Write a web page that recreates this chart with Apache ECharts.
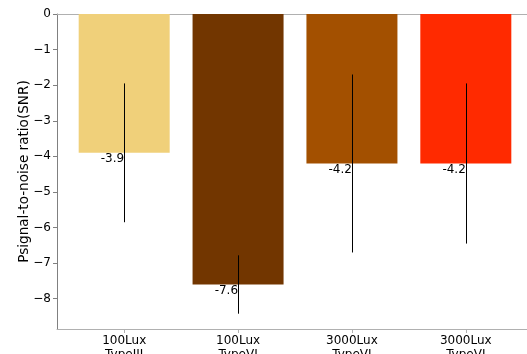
<!DOCTYPE html>
<html>
<head>
<meta charset="utf-8">
<script src="https://cdn.jsdelivr.net/npm/echarts@6/dist/echarts.min.js"></script>
<style>
  html, body { margin: 0; padding: 0; background: #fff; }
  #chart { width: 527px; height: 354px; }
</style>
</head>
<body>
<div id="chart"></div>
<script>
// Conditions and their mean SNR with the spread shown as error bars
const categories = ['100Lux\nTypeIII', '100Lux\nTypeVI', '3000Lux\nTypeVI', '3000Lux\nTypeVI'];
const snrMean = [-3.9, -7.6, -4.2, -4.2];
const snrErr = [1.95, 0.82, 2.5, 2.25];
const barColors = ['#F0D07A', '#723600', '#A35000', '#FF2A00'];
const yTicks = [0, -1, -2, -3, -4, -5, -6, -7, -8];

const FONT = 'DejaVu Sans';
const positions = categories.map((_, i) => i);

const chart = echarts.init(document.getElementById('chart'), null, { renderer: 'canvas' });

chart.setOption({
  animation: false,
  backgroundColor: '#fff',
  grid: { left: 57, top: 14, width: 476, height: 315, containLabel: false, outerBoundsMode: 'none' },
  xAxis: [
    {
      type: 'value',
      min: -0.59,
      max: 3.59,
      position: 'bottom',
      splitLine: { show: false },
      axisLine: { show: true, onZero: false, lineStyle: { color: '#b0b0b0', width: 1 } },
      axisTick: { show: true, length: 4, lineStyle: { color: '#b0b0b0' }, customValues: positions },
      axisLabel: {
        customValues: positions,
        formatter: v => categories[Math.round(v)],
        fontFamily: FONT, fontSize: 12, color: '#000', lineHeight: 14, margin: 5
      }
    },
    {
      type: 'value',
      min: -0.59,
      max: 3.59,
      position: 'top',
      splitLine: { show: false },
      axisLine: { show: true, onZero: false, lineStyle: { color: '#b0b0b0', width: 1 } },
      axisTick: { show: false },
      axisLabel: { show: false }
    }
  ],
  yAxis: {
    type: 'value',
    min: -8.85,
    max: 0,
    name: 'Psignal-to-noise ratio(SNR)',
    nameLocation: 'middle',
    nameGap: 26,
    nameMoveOverlap: false,
    nameTextStyle: { fontFamily: FONT, fontSize: 13.6, color: '#000' },
    splitLine: { show: false },
    axisLine: { show: true, onZero: false, lineStyle: { color: '#808080', width: 1 } },
    axisTick: { show: true, length: 4, lineStyle: { color: '#808080' }, customValues: yTicks },
    axisLabel: {
      customValues: yTicks,
      formatter: v => String(v).replace('-', '\u2212'),
      fontFamily: FONT, fontSize: 12, color: '#000', margin: 6
    }
  },
  series: [
    {
      type: 'bar',
      xAxisIndex: 0,
      barWidth: 91,
      data: snrMean.map((v, i) => ({ value: [i, v], itemStyle: { color: barColors[i] } }))
    },
    {
      // vertical error bars, no caps
      type: 'custom',
      xAxisIndex: 0,
      z: 5,
      data: snrMean.map((v, i) => [i, v - snrErr[i], v + snrErr[i]]),
      renderItem: (params, api) => {
        const lo = api.coord([api.value(0), api.value(1)]);
        const hi = api.coord([api.value(0), api.value(2)]);
        const x = Math.round(lo[0]) + 0.5;
        return {
          type: 'line',
          shape: { x1: x, y1: lo[1], x2: x, y2: hi[1] },
          style: { stroke: '#000', lineWidth: 1 }
        };
      }
    },
    {
      // value text hanging from the end of each bar
      type: 'custom',
      xAxisIndex: 0,
      z: 6,
      data: snrMean.map((v, i) => [i, v]),
      renderItem: (params, api) => {
        const p = api.coord([api.value(0), api.value(1)]);
        return {
          type: 'text',
          x: p[0],
          y: p[1],
          style: {
            text: String(api.value(1)),
            fontFamily: FONT, fontSize: 12, fill: '#000',
            align: 'right', verticalAlign: 'top'
          }
        };
      }
    }
  ]
});
</script>
</body>
</html>
